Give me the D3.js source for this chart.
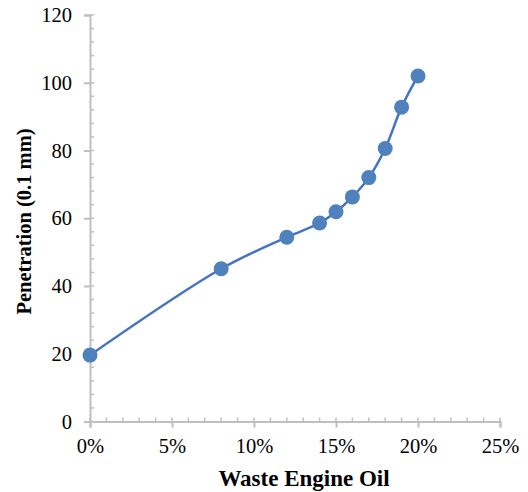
<!DOCTYPE html>
<html><head><meta charset="utf-8">
<script src="https://cdn.jsdelivr.net/npm/d3@7"></script>
<style>body{margin:0;background:#fff}svg{display:block}</style>
</head><body>
<script>
const oilPct = [0, 8, 12, 14, 15, 16, 17, 18, 19, 20];
const penetration = [19.6, 45.1, 54.4, 58.6, 61.9, 66.3, 72.0, 80.6, 92.8, 102.0];
const xTicks = [0, 5, 10, 15, 20, 25];
const yTicks = [0, 20, 40, 60, 80, 100, 120];
const xTitle = "Waste Engine Oil";
const yTitle = "Penetration (0.1 mm)";

const W = 528, H = 492;
const svg = d3.select("body").append("svg").attr("width", W).attr("height", H);
const x = d3.scaleLinear().domain([0, 25]).range([90, 500]);
const y = d3.scaleLinear().domain([0, 120]).range([421.5, 15]);
const axisColor = "#bfbfbf";
const font = "'Liberation Serif', 'Times New Roman', serif";

// minor ticks
const xMinor = d3.range(0, 25.001, 1);
const yMinor = d3.range(0, 120.001, 4);
svg.append("g").selectAll("line").data(xMinor).join("line")
  .attr("x1", d => x(d)).attr("x2", d => x(d))
  .attr("y1", y(0)).attr("y2", y(0) - 4)
  .attr("stroke", axisColor).attr("stroke-width", 1.5);
svg.append("g").selectAll("line").data(yMinor).join("line")
  .attr("y1", d => y(d)).attr("y2", d => y(d))
  .attr("x1", x(0)).attr("x2", x(0) + 4)
  .attr("stroke", axisColor).attr("stroke-width", 1.5);

// x axis
const gx = svg.append("g").attr("transform", `translate(0,${y(0)})`)
  .call(d3.axisBottom(x).tickValues(xTicks).tickFormat(d => d + "%").tickSize(6).tickPadding(11));
// y axis
const gy = svg.append("g").attr("transform", `translate(${x(0)},0)`)
  .call(d3.axisLeft(y).tickValues(yTicks).tickSize(6).tickPadding(12));
[gx, gy].forEach(g => {
  g.select(".domain").attr("stroke", axisColor).attr("stroke-width", 2);
  g.selectAll(".tick line").attr("stroke", axisColor).attr("stroke-width", 2);
  g.selectAll(".tick text").attr("fill", "#000").style("font-family", font).style("font-size", "20.5px");
});

// titles
svg.append("text").attr("x", 304).attr("y", 486).attr("text-anchor", "middle")
  .style("font-family", font).style("font-size", "23px").style("font-weight", "bold")
  .text(xTitle);
svg.append("text").attr("transform", `translate(31,221.5) rotate(-90)`).attr("text-anchor", "middle")
  .style("font-family", font).style("font-size", "20.5px").style("font-weight", "bold")
  .text(yTitle);

// line
const data = oilPct.map((d, i) => [d, penetration[i]]);
const line = d3.line().x(d => x(d[0])).y(d => y(d[1])).curve(d3.curveCatmullRom.alpha(0.5));
svg.append("path").datum(data).attr("d", line).attr("fill", "none")
  .attr("stroke", "#4472C4").attr("stroke-width", 2.5);
svg.append("g").selectAll("circle").data(data).join("circle")
  .attr("cx", d => x(d[0])).attr("cy", d => y(d[1])).attr("r", 7.5)
  .attr("fill", "#4F81BD");
</script>
</body></html>
